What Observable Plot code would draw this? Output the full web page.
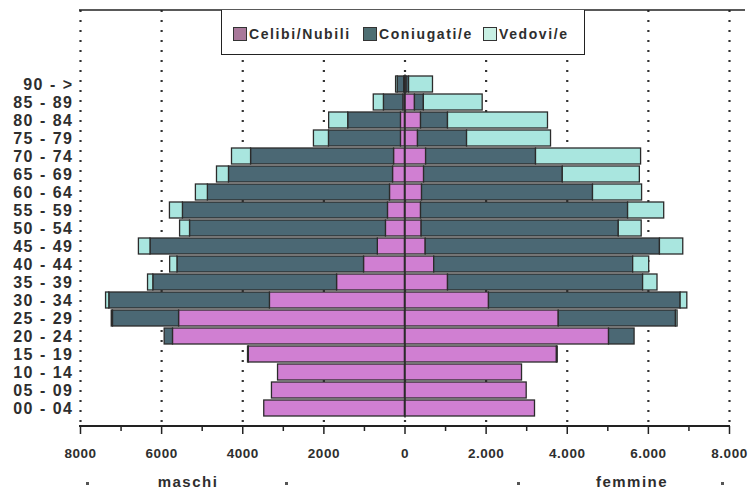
<!DOCTYPE html>
<html>
<head>
<meta charset="utf-8">
<script src="https://cdn.jsdelivr.net/npm/d3@7"></script>
<script src="https://cdn.jsdelivr.net/npm/@observablehq/plot@0.6"></script>
<style>
  html, body { margin: 0; padding: 0; background: #fff; }
  #wrap { position: relative; width: 749px; height: 490px; overflow: hidden; font-family: "Liberation Sans", Arial, sans-serif; }
  #chart svg { display: block; }
  #chart g[aria-label="y-axis tick label"] text { font-weight: bold; font-size: 16px; letter-spacing: 1.5px; fill: #2e2e2e; }
  #chart g[aria-label="x-axis tick label"] text { font-weight: bold; font-size: 13.5px; letter-spacing: 0.5px; fill: #2e2e2e; }
  .legend { position: absolute; left: 221px; top: 10px; width: 362px; height: 44px; background: #fff;
            border-left: 1.5px solid #222; border-right: 1.5px solid #222; border-bottom: 1.5px solid #222; }
  .item { position: absolute; top: 16px; height: 16px; display: flex; align-items: center;
          font-weight: bold; font-size: 14px; letter-spacing: 1.6px; color: #2e2e2e; white-space: nowrap; }
  .sw { width: 14px; height: 14px; border: 1px solid #333; margin-right: 2px; box-sizing: border-box; }
  .lab { position: absolute; transform: translate(-50%, -50%); font-weight: bold; font-size: 15px; letter-spacing: 1.5px; color: #2e2e2e; white-space: nowrap; }
  .dot { position: absolute; width: 3px; height: 3px; background: #555; }
</style>
</head>
<body>
<div id="wrap">
  <div id="chart"></div>
</div>
<script>
// ---- data ----
const ages = ["90 - >","85 - 89","80 - 84","75 - 79","70 - 74","65 - 69","60 - 64","55 - 59","50 - 54","45 - 49",
              "40 - 44","35 - 39","30 - 34","25 - 29","20 - 24","15 - 19","10 - 14","05 - 09","00 - 04"];
const statuses = ["Celibi/Nubili", "Coniugati/e", "Vedovi/e"];
const barColors = ["#d07fd2", "#4b6874", "#a9e6df"];
const swatchColors = ["#a8789a", "#4e6e72", "#c8f0e4"];

const maschiCelibi    = [20, 40, 100, 100, 270, 295, 370, 420, 470, 670, 1010, 1675, 3330, 5570, 5720, 3850, 3130, 3280, 3470];
const maschiConiugati = [160, 480, 1300, 1775, 3525, 4045, 4490, 5055, 4830, 5605, 4600, 4530, 3960, 1630, 205, 20, 0, 0, 0];
const maschiVedovi    = [40, 250, 470, 370, 470, 295, 295, 320, 245, 285, 180, 130, 80, 30, 0, 0, 0, 0, 0];

const femmineNubili    = [40, 245, 395, 320, 520, 470, 420, 395, 410, 510, 720, 1060, 2070, 3790, 5030, 3745, 2885, 3000, 3205];
const femmineConiugate = [60, 220, 665, 1210, 2710, 3420, 4215, 5105, 4860, 5775, 4905, 4810, 4725, 2890, 630, 20, 0, 0, 0];
const femmineVedove    = [590, 1450, 2465, 2070, 2590, 1900, 1210, 890, 565, 575, 395, 355, 165, 40, 0, 0, 0, 0, 0];

const gridValues = [-8000, -6000, -4000, -2000, 0, 2000, 4000, 6000, 8000];
const majorTicks = [-8000, -6000, -4000, -2000, 0, 2000, 4000, 6000, 8000];
const minorTicks = [-7000, -5000, -3000, -1000, 1000, 3000, 5000, 7000];

// ---- tidy table ----
const rows = [];
ages.forEach((age, i) => {
  const m = [maschiCelibi[i], maschiConiugati[i], maschiVedovi[i]];
  const f = [femmineNubili[i], femmineConiugate[i], femmineVedove[i]];
  statuses.forEach((s, k) => { if (m[k] > 0) rows.push({age, status: s, value: -m[k]}); });
  statuses.forEach((s, k) => { if (f[k] > 0) rows.push({age, status: s, value: f[k]}); });
});

const fmt = d => d < 0 ? String(-d) : d === 0 ? "0" : d3.format(",")(d).replace(/,/g, ".");

const plot = Plot.plot({
  width: 749,
  height: 490,
  marginTop: 10,
  marginBottom: 64,
  marginLeft: 80,
  marginRight: 20,
  style: {fontFamily: "Liberation Sans, Arial, sans-serif", background: "transparent", color: "#333"},
  x: {domain: [-8000, 8000]},
  y: {domain: ages, range: [65, 427], padding: 0.12},
  color: {domain: statuses, range: barColors},
  marks: [
    Plot.ruleX(gridValues, {stroke: "#333", strokeWidth: 2.2, strokeDasharray: "2,8"}),
    Plot.barX(rows, Plot.stackX({y: "age", x: "value", fill: "status", stroke: "#2b2b2b", strokeWidth: 1.3})),
    Plot.tickX(ages, {x: () => 0, y: d => d, stroke: "#2b2b2b", strokeWidth: 1.5, insetTop: -1.5, insetBottom: -1.5}),
    Plot.axisX({ticks: minorTicks, tickSize: 5, tickFormat: () => "", label: null, stroke: "#222", strokeWidth: 1.5}),
    Plot.axisX({ticks: majorTicks, tickSize: 8, tickPadding: 14, tickFormat: fmt, label: null, stroke: "#222", strokeWidth: 1.5}),
    Plot.axisY({tickSize: 0, tickPadding: 7, label: null})
  ]
});

document.getElementById("chart").appendChild(plot);

// axis line and top line drawn with the plot's own scales
const xs = plot.scale("x");
const svg = d3.select(plot);
const x0 = xs.apply(-8000), x1 = xs.apply(8000);
const yBottom = 490 - 64;
svg.append("line").attr("x1", x0 - 1).attr("x2", x1 + 1).attr("y1", yBottom).attr("y2", yBottom)
   .attr("stroke", "#222").attr("stroke-width", 1.8);
svg.append("line").attr("x1", x0 - 1).attr("x2", 745).attr("y1", 10).attr("y2", 10)
   .attr("stroke", "#222").attr("stroke-width", 1.6);

// legend
const wrap = document.getElementById("wrap");
const legend = document.createElement("div");
legend.className = "legend";
const itemLefts = [11, 141, 261];
statuses.forEach((s, k) => {
  const it = document.createElement("div");
  it.className = "item";
  it.style.left = itemLefts[k] + "px";
  const sw = document.createElement("div");
  sw.className = "sw";
  sw.style.background = swatchColors[k];
  it.appendChild(sw);
  it.appendChild(document.createTextNode(s));
  legend.appendChild(it);
});
wrap.appendChild(legend);

// bottom labels
const bottomLabels = [{t: "maschi", x: 188}, {t: "femmine", x: 632}];
bottomLabels.forEach(b => {
  const d = document.createElement("div");
  d.className = "lab";
  d.style.left = b.x + "px";
  d.style.top = "481px";
  d.textContent = b.t;
  wrap.appendChild(d);
});
[87, 286, 518, 722].forEach(x => {
  const d = document.createElement("div");
  d.className = "dot";
  d.style.left = (x - 1) + "px";
  d.style.top = "482px";
  wrap.appendChild(d);
});
</script>
</body>
</html>
